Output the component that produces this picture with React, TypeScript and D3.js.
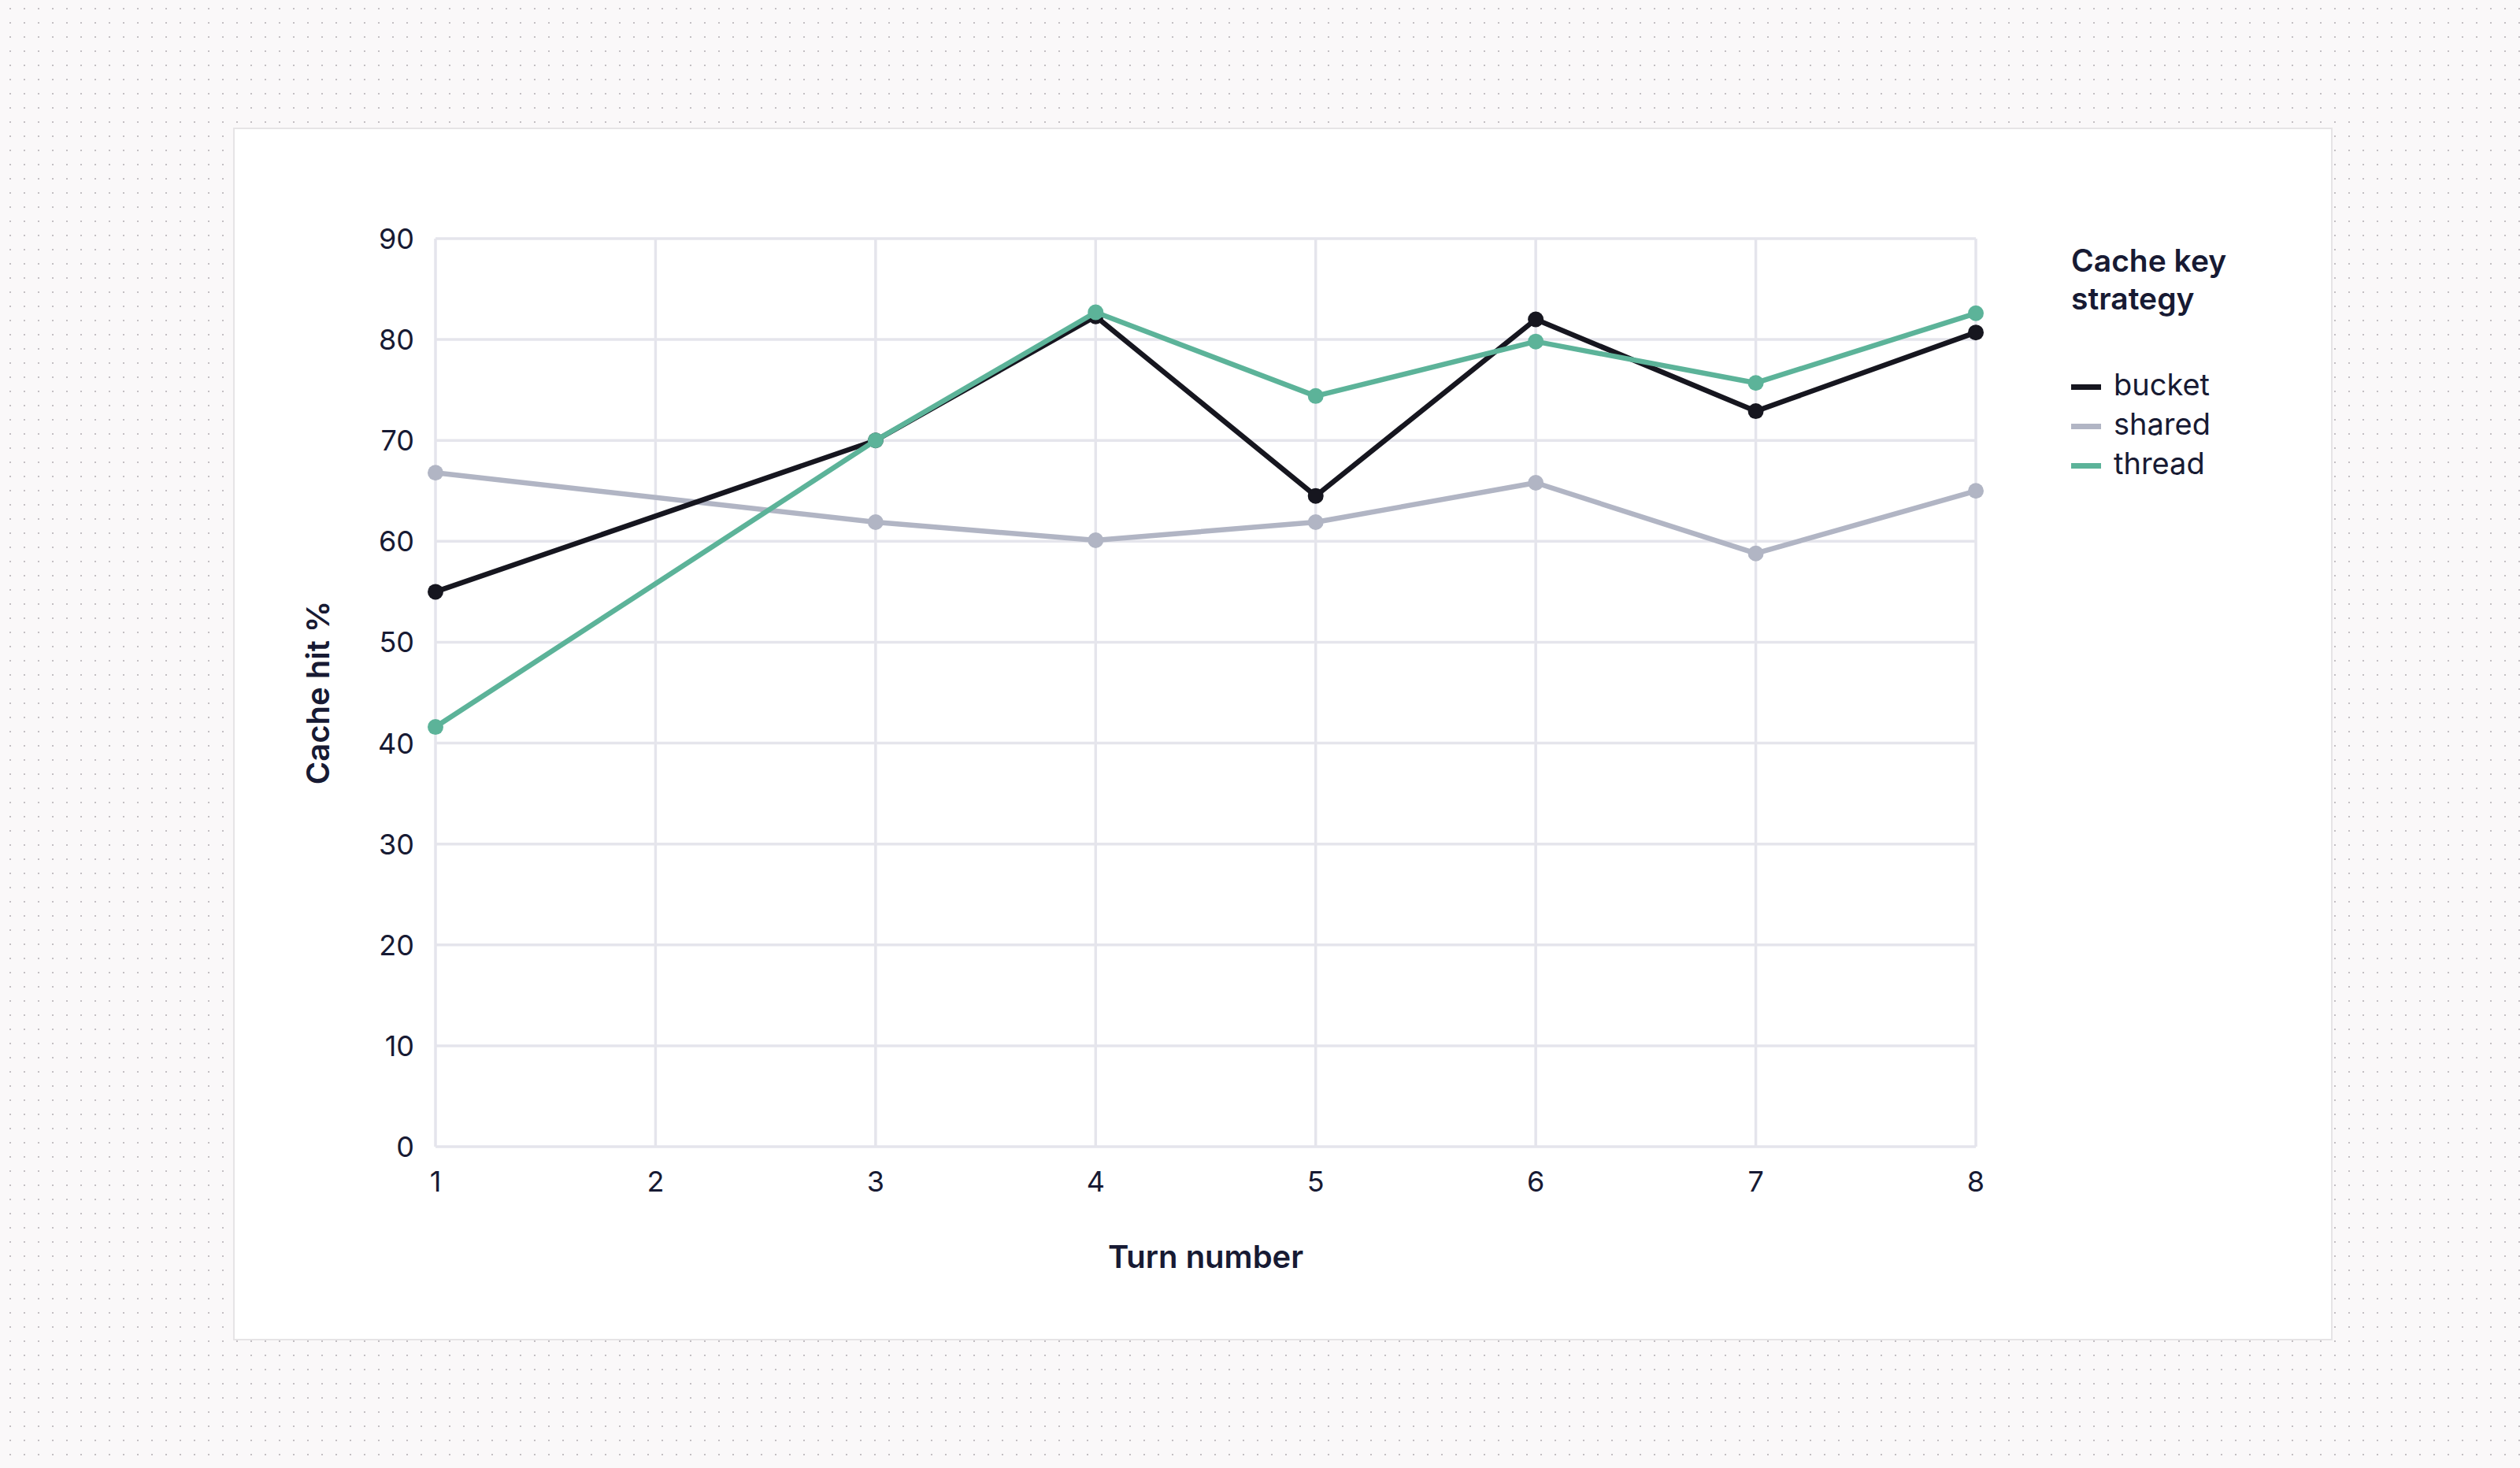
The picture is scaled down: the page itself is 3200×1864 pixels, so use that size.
import * as d3 from 'd3';
import { useEffect } from 'react';

const turns = [1, 2, 3, 4, 5, 6, 7, 8];
const yTicks = [0, 10, 20, 30, 40, 50, 60, 70, 80, 90];

// no sample at turn 2 for any series; the line just runs across it
const bucket: (number | null)[] = [55.0, null, 70.0, 82.3, 64.5, 82.0, 72.9, 80.7];
const shared: (number | null)[] = [66.8, null, 61.9, 60.1, 61.9, 65.8, 58.8, 65.0];
const thread: (number | null)[] = [41.6, null, 70.0, 82.7, 74.4, 79.8, 75.7, 82.6];

const seriesNames = ['bucket', 'shared', 'thread'];
const seriesColors = ['#16161f', '#b1b5c4', '#5cb399'];

const W = 3200;
const H = 1864;
const INK = '#171a33';
const GRID = '#e5e5ec';
const FONT = 'Inter, "Noto Sans", sans-serif';

export default function App() {
    useEffect(() => {
        document.body.style.margin = '0';
        document.body.style.overflow = 'hidden';
    }, []);

    const x = d3.scaleLinear().domain([1, 8]).range([553, 2509]);
    const y = d3.scaleLinear().domain([0, 90]).range([1456, 303]);

    const line = d3
        .line<[number, number]>()
        .x((d) => x(d[0]))
        .y((d) => y(d[1]));

    const pts = (vals: (number | null)[]) =>
        vals.map((v, i) => [turns[i], v] as [number, number | null]).filter((p) => p[1] !== null) as [number, number][];

    const all = [bucket, shared, thread].map(pts);
    // shared underneath, then bucket, thread on top
    const order = [1, 0, 2];

    return (
        <svg width={W} height={H} style={{ position: 'fixed', left: 0, top: 0, display: 'block' }}>
            <defs>
                <pattern id="dots" width={18} height={18} patternUnits="userSpaceOnUse" x={12} y={10}>
                    <rect width={2} height={2} fill="#c3bfc3" />
                </pattern>
            </defs>
            <rect width={W} height={H} fill="#faf8f9" />
            <rect width={W} height={H} fill="url(#dots)" />
            <rect x={297} y={163} width={2664} height={1538} fill="#fff" stroke="#e6e4e6" strokeWidth={2} />

            {/* grid */}
            <g>
                {yTicks.map((t) => (
                    <line key={'gy' + t} x1={x(1)} x2={x(8)} y1={y(t)} y2={y(t)} stroke={GRID} strokeWidth={3.5} />
                ))}
                {turns.map((t) => (
                    <line key={'gx' + t} x1={x(t)} x2={x(t)} y1={y(0)} y2={y(90)} stroke={GRID} strokeWidth={3.5} />
                ))}
            </g>

            {/* tick labels */}
            <g fontFamily={FONT} fontSize={36} fill={INK}>
                {yTicks.map((t) => (
                    <text key={'ty' + t} x={x(1) - 27} y={y(t)} dy="0.36em" textAnchor="end">
                        {t}
                    </text>
                ))}
                {turns.map((t) => (
                    <text key={'tx' + t} x={x(t)} y={1513} textAnchor="middle">
                        {t}
                    </text>
                ))}
            </g>

            {/* axis titles */}
            <text x={(x(1) + x(8)) / 2} y={1610} textAnchor="middle" fontFamily={FONT} fontSize={40} fontWeight={600} fill={INK}>
                Turn number
            </text>
            <text
                transform={`translate(418,${(y(0) + y(90)) / 2}) rotate(-90)`}
                textAnchor="middle"
                fontFamily={FONT}
                fontSize={40}
                fontWeight={600}
                fill={INK}
            >
                Cache hit %
            </text>

            {/* series */}
            {order.map((si) => (
                <g key={seriesNames[si]}>
                    <path d={line(all[si]) || ''} fill="none" stroke={seriesColors[si]} strokeWidth={6.5} strokeLinejoin="round" />
                    {all[si].map((p) => (
                        <circle key={p[0]} cx={x(p[0])} cy={y(p[1])} r={10} fill={seriesColors[si]} />
                    ))}
                </g>
            ))}

            {/* legend */}
            <g fontFamily={FONT} fill={INK}>
                <text x={2630} y={345} fontSize={39} fontWeight={600}>
                    Cache key
                </text>
                <text x={2630} y={393} fontSize={39} fontWeight={600}>
                    strategy
                </text>
                {seriesNames.map((n, i) => (
                    <g key={n} transform={`translate(2630,${502 + i * 50})`}>
                        <rect x={0} y={-14} width={38} height={7} fill={seriesColors[i]} />
                        <text x={54} y={0} fontSize={38}>
                            {n}
                        </text>
                    </g>
                ))}
            </g>
        </svg>
    );
}
